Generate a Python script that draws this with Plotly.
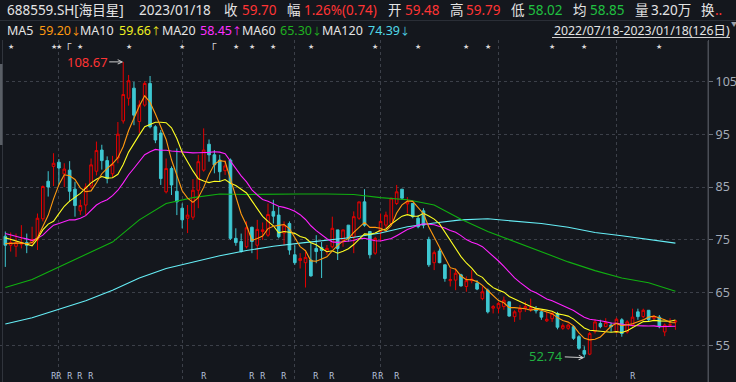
import plotly.graph_objects as go
import pandas as pd

# ---------------- data ----------------
opens = [75.7, 74.0, 73.8, 74.2, 74.5, 74.5, 75.0, 79.0, 86.1, 88.9,
         89.7, 87.5, 88.2, 84.6, 80.5, 81.6, 85.2, 88.0, 92.0, 90.0,
         87.5, 90.5, 97.5, 101.8, 103.7, 97.4, 100.5, 104.6, 96.4, 95.2,
         84.1, 88.5, 84.2, 81.0, 79.1, 79.3, 84.4, 88.2, 93.1, 91.1,
         90.1, 88.1, 90.1, 75.3, 74.7, 73.7, 77.4, 74.0, 76.6, 75.9,
         80.4, 79.7, 76.3, 78.1, 72.2, 71.1, 70.7, 71.2, 73.4, 73.6,
         72.8, 73.7, 76.9, 75.0, 77.8, 75.6, 79.1, 82.2, 76.6, 72.5,
         76.6, 77.8, 78.1, 81.9, 84.6, 81.8, 81.9, 79.1, 80.5, 75.1,
         70.7, 72.9, 70.3, 67.3, 67.4, 68.4, 66.2, 67.3, 66.8, 63.9,
         65.5, 62.1, 62.1, 62.4, 63.3, 60.5, 61.4, 62.1, 61.9, 62.0,
         61.4, 59.7, 60.1, 61.1, 58.3, 58.3, 58.6, 56.7, 54.1, 53.4,
         57.7, 59.2, 58.6, 58.9, 57.6, 59.9, 57.6, 58.9, 61.4, 60.5,
         61.7, 60.2, 60.4, 57.6, 58.9, 59.48]
highs = [76.6, 76.4, 76.2, 77.8, 76.2, 77.5, 80.0, 85.3, 88.0, 91.4,
         90.3, 89.5, 89.9, 86.0, 82.6, 85.7, 90.4, 93.6, 93.0, 90.8,
         90.9, 97.3, 108.67, 106.2, 104.9, 101.4, 105.0, 106.0, 96.7, 95.8,
         90.4, 88.9, 92.3, 81.9, 81.6, 86.5, 91.1, 96.1, 94.0, 92.0,
         91.1, 90.1, 90.4, 77.2, 76.2, 78.5, 77.5, 78.8, 78.3, 81.9,
         82.6, 81.3, 78.5, 78.5, 74.0, 72.5, 72.8, 74.4, 75.9, 74.6,
         74.05, 79.4, 76.9, 77.0, 77.8, 80.4, 82.2, 84.6, 76.6, 75.6,
         80.0, 80.35, 82.9, 85.4, 84.6, 83.1, 81.9, 79.7, 81.0, 75.6,
         73.0, 73.4, 70.3, 69.6, 69.6, 68.6, 68.1, 69.3, 67.4, 66.2,
         65.8, 62.7, 63.3, 64.3, 63.3, 61.7, 62.7, 63.3, 63.9, 62.5,
         61.7, 61.4, 61.4, 61.4, 59.2, 59.2, 58.9, 57.0, 54.9, 57.6,
         60.0, 59.9, 60.2, 59.4, 60.3, 60.2, 59.8, 62.0, 62.0, 62.0,
         61.7, 60.8, 60.8, 59.2, 60.2, 59.79]
lows = [69.9, 72.8, 71.8, 73.4, 72.5, 74.0, 73.1, 78.5, 83.2, 85.2,
        85.5, 85.0, 82.2, 79.4, 79.7, 79.7, 84.8, 87.2, 88.3, 85.7,
        86.8, 89.5, 97.0, 100.4, 96.7, 95.2, 100.2, 96.1, 93.3, 85.4,
        83.8, 83.5, 79.7, 77.2, 76.3, 78.8, 81.0, 87.9, 89.8, 87.6,
        86.0, 87.3, 75.0, 73.9, 72.6, 73.4, 72.5, 71.3, 75.0, 75.6,
        78.1, 75.3, 74.0, 72.2, 70.3, 69.6, 66.0, 68.06, 70.6, 67.8,
        72.16, 73.4, 71.2, 73.7, 74.7, 72.5, 78.8, 77.5, 71.5, 72.2,
        74.7, 77.2, 77.8, 81.6, 82.6, 80.0, 79.1, 77.2, 77.2, 69.9,
        69.3, 70.6, 67.1, 66.2, 65.5, 66.2, 65.2, 66.8, 65.5, 63.6,
        61.1, 61.1, 61.1, 61.8, 60.5, 59.5, 59.9, 61.4, 61.4, 61.1,
        59.9, 59.5, 59.5, 58.1, 58.0, 58.0, 56.1, 54.2, 52.74, 53.2,
        57.3, 58.3, 58.6, 57.6, 57.3, 56.7, 57.3, 58.6, 59.9, 60.2,
        59.6, 59.9, 58.3, 56.8, 58.6, 58.02]
closes = [74.0, 74.5, 74.5, 74.4, 74.0, 75.1, 79.1, 85.1, 85.0, 89.5,
          88.6, 88.4, 84.2, 81.5, 81.5, 85.0, 89.2, 91.9, 90.0, 86.6,
          89.3, 95.0, 102.5, 105.1, 98.6, 100.5, 104.6, 96.4, 93.9, 86.6,
          88.5, 85.4, 82.2, 78.8, 79.7, 84.4, 89.8, 92.0, 91.1, 89.2,
          87.9, 89.0, 75.3, 74.5, 72.8, 77.3, 74.7, 77.0, 76.9, 79.8,
          79.5, 75.6, 77.8, 73.1, 70.7, 71.5, 71.7, 68.2, 72.8, 73.0,
          73.4, 77.2, 73.4, 76.9, 75.3, 79.4, 82.2, 77.8, 72.2, 75.3,
          78.5, 79.7, 82.9, 84.1, 82.9, 82.2, 79.4, 77.5, 77.8, 70.3,
          72.6, 70.7, 67.7, 67.5, 68.7, 66.3, 67.3, 67.6, 65.7, 65.2,
          61.4, 62.4, 63.0, 63.6, 60.6, 61.4, 62.0, 62.4, 62.2, 61.6,
          60.4, 60.0, 61.1, 58.5, 58.8, 58.9, 56.4, 54.5, 53.4, 57.3,
          59.5, 58.6, 59.4, 58.6, 60.0, 57.3, 59.5, 60.4, 60.5, 61.7,
          59.9, 60.5, 58.6, 58.9, 58.96, 59.70]

# moving-average values before a full window exists
ma5_head = [74.3, 74.4, 74.4, 74.4]
ma10_head = [75.4, 75.1, 74.8, 74.5, 74.1, 73.9, 75.2, 76.9, 78.0]
ma20_head = [76.2, 75.9, 75.6, 75.4, 75.2, 74.9, 75.3, 75.9, 76.9, 77.8,
             78.1, 78.5, 78.8, 78.8, 79.1, 79.6, 80.7, 81.6, 82.2]

# long moving averages read at every 5th session
ma_long_idx = list(range(0, 126, 5))
ma60_read = [66.0, 67.5, 69.9, 72.2, 74.6, 78.8, 81.9, 83.0, 83.7, 83.6,
             83.7, 83.7, 83.7, 83.6, 83.0, 82.6, 81.6, 78.9, 76.6, 74.7,
             72.7, 70.85, 69.2, 67.8, 66.9, 65.3]
ma120_read = [59.1, 60.3, 61.9, 63.5, 65.5, 67.8, 69.6, 70.8, 72.0, 73.0,
              73.8, 74.4, 75.0, 75.5, 76.3, 77.5, 78.2, 78.8, 79.0, 78.6,
              78.1, 77.4, 76.4, 75.8, 75.1, 74.4]

month_first_idx = [10, 33, 54, 70, 92, 114]
star_idx = [1, 9, 10, 14, 23, 33, 43, 46, 50, 57, 69, 77, 86, 90, 102, 108, 122]
flag_idx = [12, 39]
r_idx = [9, 10, 12, 14, 16, 37, 46, 48, 52, 58, 61, 69, 70, 73, 117]
y_ticks = [55, 65, 75, 85, 95, 105]

high_label = "108.67"
low_label = "52.74"

header1 = ["688559.SH[海目星]", "2023/01/18", "收", "59.70", "幅", "1.26%(0.74)",
           "开", "59.48", "高", "59.79", "低", "58.02", "均", "58.85",
           "量", "3.20万", "换", ".."]
ma_names = ["MA5", "MA10", "MA20", "MA60", "MA120"]
ma_values = ["59.20", "59.66", "58.45", "65.30", "74.39"]
ma_trend = ["↓", "↑", "↑", "↓", "↓"]
range_text = "2022/07/18-2023/01/18(126日)"

# ---------------- styling ----------------
W, H = 736, 382
ML, MR, MT, MB = 0, 28, 40, 0
PW, PH = W - ML - MR, H - MT - MB
BG = "#14171d"
RED = "#e60000"
CYAN = "#3ec8d2"
GRID = "#3c4049"
FONT = "Noto Sans, Noto Sans CJK SC, sans-serif"

WHITE_T = "#e4e4e4"
RED_T = "#ff3434"
GREEN_T = "#20c040"


def px(x):
    return (x - ML) / PW


def py(y):
    return (H - MB - y) / PH


n = len(closes)
idx = list(range(n))
cs = pd.Series(closes)


def ma(k, head):
    vals = cs.rolling(k).mean().tolist()
    vals[:k - 1] = head
    return vals


ma5 = ma(5, ma5_head)
ma10 = ma(10, ma10_head)
ma20 = ma(20, ma20_head)

fig = go.Figure()

for xs, ys, col in [
    (ma_long_idx, ma120_read, "#66eef6"),
    (ma_long_idx, ma60_read, "#10b010"),
    (idx, ma20, "#ff22ff"),
    (idx, ma10, "#ffff22"),
    (idx, ma5, "#ff9a10"),
]:
    fig.add_trace(go.Scatter(x=xs, y=ys, mode="lines",
                             line=dict(color=col, width=1.1),
                             hoverinfo="skip", showlegend=False))

fig.add_trace(go.Candlestick(
    x=idx, open=opens, high=highs, low=lows, close=closes,
    increasing=dict(line=dict(color=RED, width=1), fillcolor=BG),
    decreasing=dict(line=dict(color=CYAN, width=1), fillcolor=CYAN),
    whiskerwidth=0, showlegend=False))

annotations = []

# header row 1
h1_x = [5, 137, 222, 240, 285, 302, 386, 403, 448, 464, 509, 526, 571, 588,
        633, 649, 699, 713]
h1_c = [WHITE_T, WHITE_T, WHITE_T, RED_T, WHITE_T, RED_T, WHITE_T, RED_T,
        WHITE_T, RED_T, WHITE_T, GREEN_T, WHITE_T, GREEN_T, WHITE_T, WHITE_T,
        WHITE_T, RED_T]
for t, x, c in zip(header1, h1_x, h1_c):
    annotations.append(dict(text=t, x=px(x), y=py(10.5), xref="paper", yref="paper",
                            xanchor="left", yanchor="middle", showarrow=False,
                            font=dict(family=FONT, size=13.5, color=c)))

# header row 2
name_x = [5, 78, 160, 240, 320]
val_x = [37, 117, 198, 278, 366]
val_c = ["#ff9a10", "#f0f020", "#ff30ff", "#20b020", "#50d8e8"]
for nm, v, tr, nx, vx, c in zip(ma_names, ma_values, ma_trend, name_x, val_x, val_c):
    annotations.append(dict(text=nm, x=px(nx), y=py(30.5), xref="paper", yref="paper",
                            xanchor="left", yanchor="middle", showarrow=False,
                            font=dict(family=FONT, size=12.5, color=WHITE_T)))
    annotations.append(dict(text=v + "<span style='font-size:10px'>" + tr + "</span>",
                            x=px(vx), y=py(30.5), xref="paper", yref="paper",
                            xanchor="left", yanchor="middle", showarrow=False,
                            font=dict(family=FONT, size=12.5, color=c)))
annotations.append(dict(text=range_text, x=px(552), y=py(30.5), xref="paper",
                        yref="paper", xanchor="left", yanchor="middle",
                        showarrow=False,
                        font=dict(family=FONT, size=12.3, color=WHITE_T)))
annotations.append(dict(text="▼", x=px(734), y=py(24), xref="paper", yref="paper",
                        xanchor="center", yanchor="middle", showarrow=False,
                        font=dict(family=FONT, size=6, color="#9aa0a8")))

# event markers
for i in star_idx:
    annotations.append(dict(text="★", x=i, y=py(47), xref="x", yref="paper",
                            xanchor="center", yanchor="middle", showarrow=False,
                            font=dict(family="DejaVu Sans", size=7, color="#d8d8d8")))
for i in flag_idx:
    annotations.append(dict(text="Γ", x=i, y=py(47), xref="x", yref="paper",
                            xanchor="center", yanchor="middle", showarrow=False,
                            font=dict(family="DejaVu Sans", size=8, color="#d8d8d8")))
for i in r_idx:
    annotations.append(dict(text="R", x=i, y=py(376), xref="x", yref="paper",
                            xanchor="center", yanchor="middle", showarrow=False,
                            font=dict(family="DejaVu Sans", size=8, color="#b8c4dc")))

# extreme labels
hi_i = highs.index(max(highs))
lo_i = lows.index(min(lows))
annotations.append(dict(text=high_label, x=hi_i, y=highs[hi_i], xref="x", yref="y",
                        ax=-36, ay=0, showarrow=True, arrowhead=5, arrowsize=0.9,
                        arrowwidth=1, arrowcolor="#cfcfcf", standoff=0,
                        font=dict(family=FONT, size=13, color="#ff3434")))
annotations.append(dict(text=low_label, x=lo_i, y=lows[lo_i], xref="x", yref="y",
                        ax=-38, ay=-1.5, showarrow=True, arrowhead=5, arrowsize=0.9,
                        arrowwidth=1, arrowcolor="#cfcfcf", standoff=0,
                        font=dict(family=FONT, size=13, color="#20b040")))

shapes = [
    dict(type="line", xref="paper", yref="paper", x0=px(552), x1=px(730),
         y0=py(37.5), y1=py(37.5), line=dict(color="#cfcfcf", width=1)),
    dict(type="line", xref="paper", yref="paper", x0=0, x1=px(736),
         y0=py(20.5), y1=py(20.5), line=dict(color="#2a2e36", width=1)),
    dict(type="line", xref="paper", yref="paper", x0=1, x1=1,
         y0=0, y1=py(41), line=dict(color="#4a4e56", width=1)),
    dict(type="line", xref="paper", yref="paper", x0=px(2.5), x1=px(2.5),
         y0=0, y1=1, line=dict(color="#30343c", width=1)),
    dict(type="rect", xref="paper", yref="paper", x0=0, x1=px(2.5),
         y0=py(145), y1=py(64), fillcolor="#5a5f66", line=dict(width=0)),
]

y_lo = 105 - (H - MB - 81.3) / 5.288
y_hi = 105 + (81.3 - MT) / 5.288
x_lo = -5.3 / 5.361
x_hi = (PW - 5.3) / 5.361

fig.update_layout(
    width=W, height=H,
    margin=dict(l=ML, r=MR, t=MT, b=MB, pad=0),
    paper_bgcolor=BG, plot_bgcolor=BG,
    showlegend=False,
    annotations=annotations,
    shapes=shapes,
    xaxis=dict(range=[x_lo, x_hi], tickvals=month_first_idx, showticklabels=False,
               showgrid=True, gridcolor=GRID, griddash="dot", gridwidth=1,
               zeroline=False, ticks="", rangeslider=dict(visible=False),
               showline=False, fixedrange=True),
    yaxis=dict(range=[y_lo, y_hi], side="right", tickvals=y_ticks,
               ticktext=[str(v) for v in y_ticks],
               showgrid=True, gridcolor=GRID, griddash="dot", gridwidth=1,
               zeroline=False, ticks="outside", ticklen=4, tickcolor="#6a6f78",
               showline=True, linecolor="#4a4e56", linewidth=1,
               tickfont=dict(family=FONT, size=12.5, color="#a4acb8"),
               fixedrange=True),
)

fig.write_html(
    "out.html",
    config={"displayModeBar": False},
    post_script="document.body.style.margin='0px';"
                "document.body.style.background='" + BG + "';"
                "document.body.style.overflow='hidden';",
)
